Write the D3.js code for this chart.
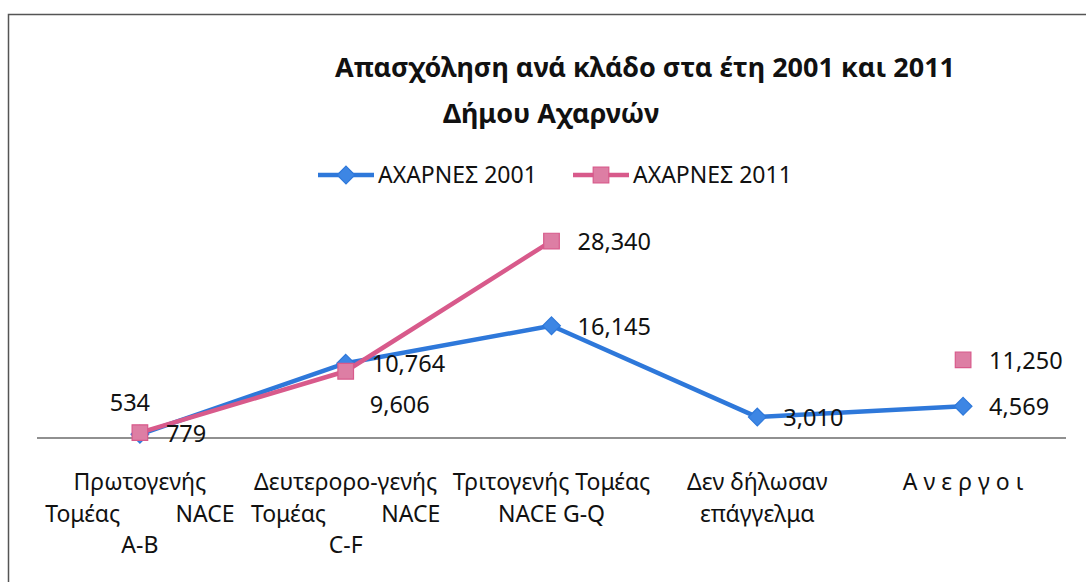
<!DOCTYPE html>
<html lang="el">
<head>
    <meta charset="UTF-8">
    <title>Απασχόληση ανά κλάδο</title>
    <script src="https://d3js.org/d3.v7.min.js"></script>
    <style>
        body { margin: 0; background: #fff; }
        svg text { font-family: "Noto Sans", "Open Sans", sans-serif; fill: #111; }
    </style>
</head>
<body>
<div id="chart"></div>
<script>
    // Data
    const categories = ["Πρωτογενής Τομέας NACE A-B", "Δευτερορο-γενής Τομέας NACE C-F",
        "Τριτογενής Τομέας NACE G-Q", "Δεν δήλωσαν επάγγελμα", "Ανεργοι"];
    // how each category label is broken into lines ("|" = spread the words over the band)
    const tickLines = [
        ["Πρωτογενής", "Τομέας|NACE", "A-B"],
        ["Δευτερορο-γενής", "Τομέας|NACE", "C-F"],
        ["Τριτογενής Τομέας", "NACE G-Q"],
        ["Δεν δήλωσαν", "επάγγελμα"],
        ["Α ν ε ρ γ ο ι"]
    ];
    const seriesNames = ["ΑΧΑΡΝΕΣ 2001", "ΑΧΑΡΝΕΣ 2011"];
    const values2001 = [534, 10764, 16145, 3010, 4569];
    const values2011 = [779, 9606, 28340, null, 11250];

    const width = 1086, height = 582;
    const plot = { left: 37, right: 1066, top: 229.5, bottom: 438 };

    const svg = d3.select("#chart").append("svg")
        .attr("width", width)
        .attr("height", height);

    // chart frame (runs off the right and bottom of the picture)
    svg.append("rect")
        .attr("x", 8.5).attr("y", 14.5)
        .attr("width", 1100).attr("height", 600)
        .attr("fill", "none")
        .attr("stroke", "#555")
        .attr("stroke-width", 1.5);

    const x = d3.scaleBand().domain(categories).range([plot.left, plot.right]).padding(0);
    const y = d3.scaleLinear().domain([0, 30000]).range([plot.bottom, plot.top]);
    const cx = c => x(c) + x.bandwidth() / 2;

    // Title
    svg.append("text")
        .attr("x", 645).attr("y", 77)
        .attr("text-anchor", "middle")
        .style("font-size", "27px").style("font-weight", "bold")
        .text("Απασχόληση ανά κλάδο στα έτη 2001 και 2011");
    svg.append("text")
        .attr("x", 551).attr("y", 123)
        .attr("text-anchor", "middle")
        .style("font-size", "27px").style("font-weight", "bold")
        .text("Δήμου Αχαρνών");

    // category axis (line only, no ticks)
    svg.append("line")
        .attr("x1", plot.left).attr("x2", plot.right)
        .attr("y1", plot.bottom).attr("y2", plot.bottom)
        .attr("stroke", "#6b6b6b").attr("stroke-width", 1.5);

    const tickGroup = svg.append("g");
    categories.forEach((c, i) => {
        tickLines[i].forEach((ln, j) => {
            const yy = 490 + j * 31.5;
            if (ln.includes("|")) {
                const [a, b] = ln.split("|");
                const half = x.bandwidth() * 0.46;
                tickGroup.append("text").attr("x", cx(c) - half).attr("y", yy)
                    .attr("class", "tick").text(a);
                tickGroup.append("text").attr("x", cx(c) + half).attr("y", yy)
                    .attr("class", "tick").attr("text-anchor", "end").text(b);
            } else {
                tickGroup.append("text").attr("x", cx(c)).attr("y", yy)
                    .attr("class", "tick").attr("text-anchor", "middle").text(ln);
            }
        });
    });
    tickGroup.selectAll("text").style("font-size", "23px");

    const series = [
        { name: seriesNames[0], values: values2001, line: "#2e78da", fill: "#3d86e4", marker: "diamond" },
        { name: seriesNames[1], values: values2011, line: "#d85a8b", fill: "#dd7ea4", marker: "square" }
    ];

    const diamond = d3.symbol().type(d3.symbolDiamond2).size(200);
    const square = d3.symbol().type(d3.symbolSquare2).size(310);

    function drawMarker(g, type, px, py, s) {
        g.append("path")
            .attr("d", type === "diamond" ? diamond() : square())
            .attr("transform", `translate(${px},${py})`)
            .attr("fill", s.fill)
            .attr("stroke", s.line)
            .attr("stroke-width", 1.2);
    }

    const line = d3.line()
        .defined(d => d.v !== null)
        .x(d => cx(d.c))
        .y(d => y(d.v));

    series.forEach(s => {
        const pts = categories.map((c, i) => ({ c, v: s.values[i] }));
        const g = svg.append("g");
        g.append("path")
            .attr("d", line(pts))
            .attr("fill", "none")
            .attr("stroke", s.line)
            .attr("stroke-width", 4.5)
            .attr("stroke-linejoin", "round");
        pts.filter(d => d.v !== null).forEach(d => drawMarker(g, s.marker, cx(d.c), y(d.v), s));
    });

    // data labels, right of the point except for two moved ones
    const fmt = d3.format(",");
    const labelShift = { "0-0": [-10, -23, "middle"], "1-1": [24, 41.5, "start"] };
    series.forEach((s, si) => {
        s.values.forEach((v, i) => {
            if (v === null) return;
            const sh = labelShift[si + "-" + i] || [26, 9, "start"];
            svg.append("text")
                .attr("x", cx(categories[i]) + sh[0])
                .attr("y", y(v) + sh[1])
                .attr("text-anchor", sh[2])
                .style("font-size", "23.5px")
                .text(fmt(v));
        });
    });

    // Legend
    const legendX = [318, 573];
    series.forEach((s, i) => {
        const g = svg.append("g").attr("transform", `translate(${legendX[i]},175)`);
        g.append("line").attr("x1", 0).attr("x2", 56)
            .attr("stroke", s.line).attr("stroke-width", 4.5);
        drawMarker(g, s.marker, 28, 0, s);
        g.append("text").attr("x", 60).attr("y", 8)
            .style("font-size", "23px")
            .text(s.name);
    });
</script>
</body>
</html>
